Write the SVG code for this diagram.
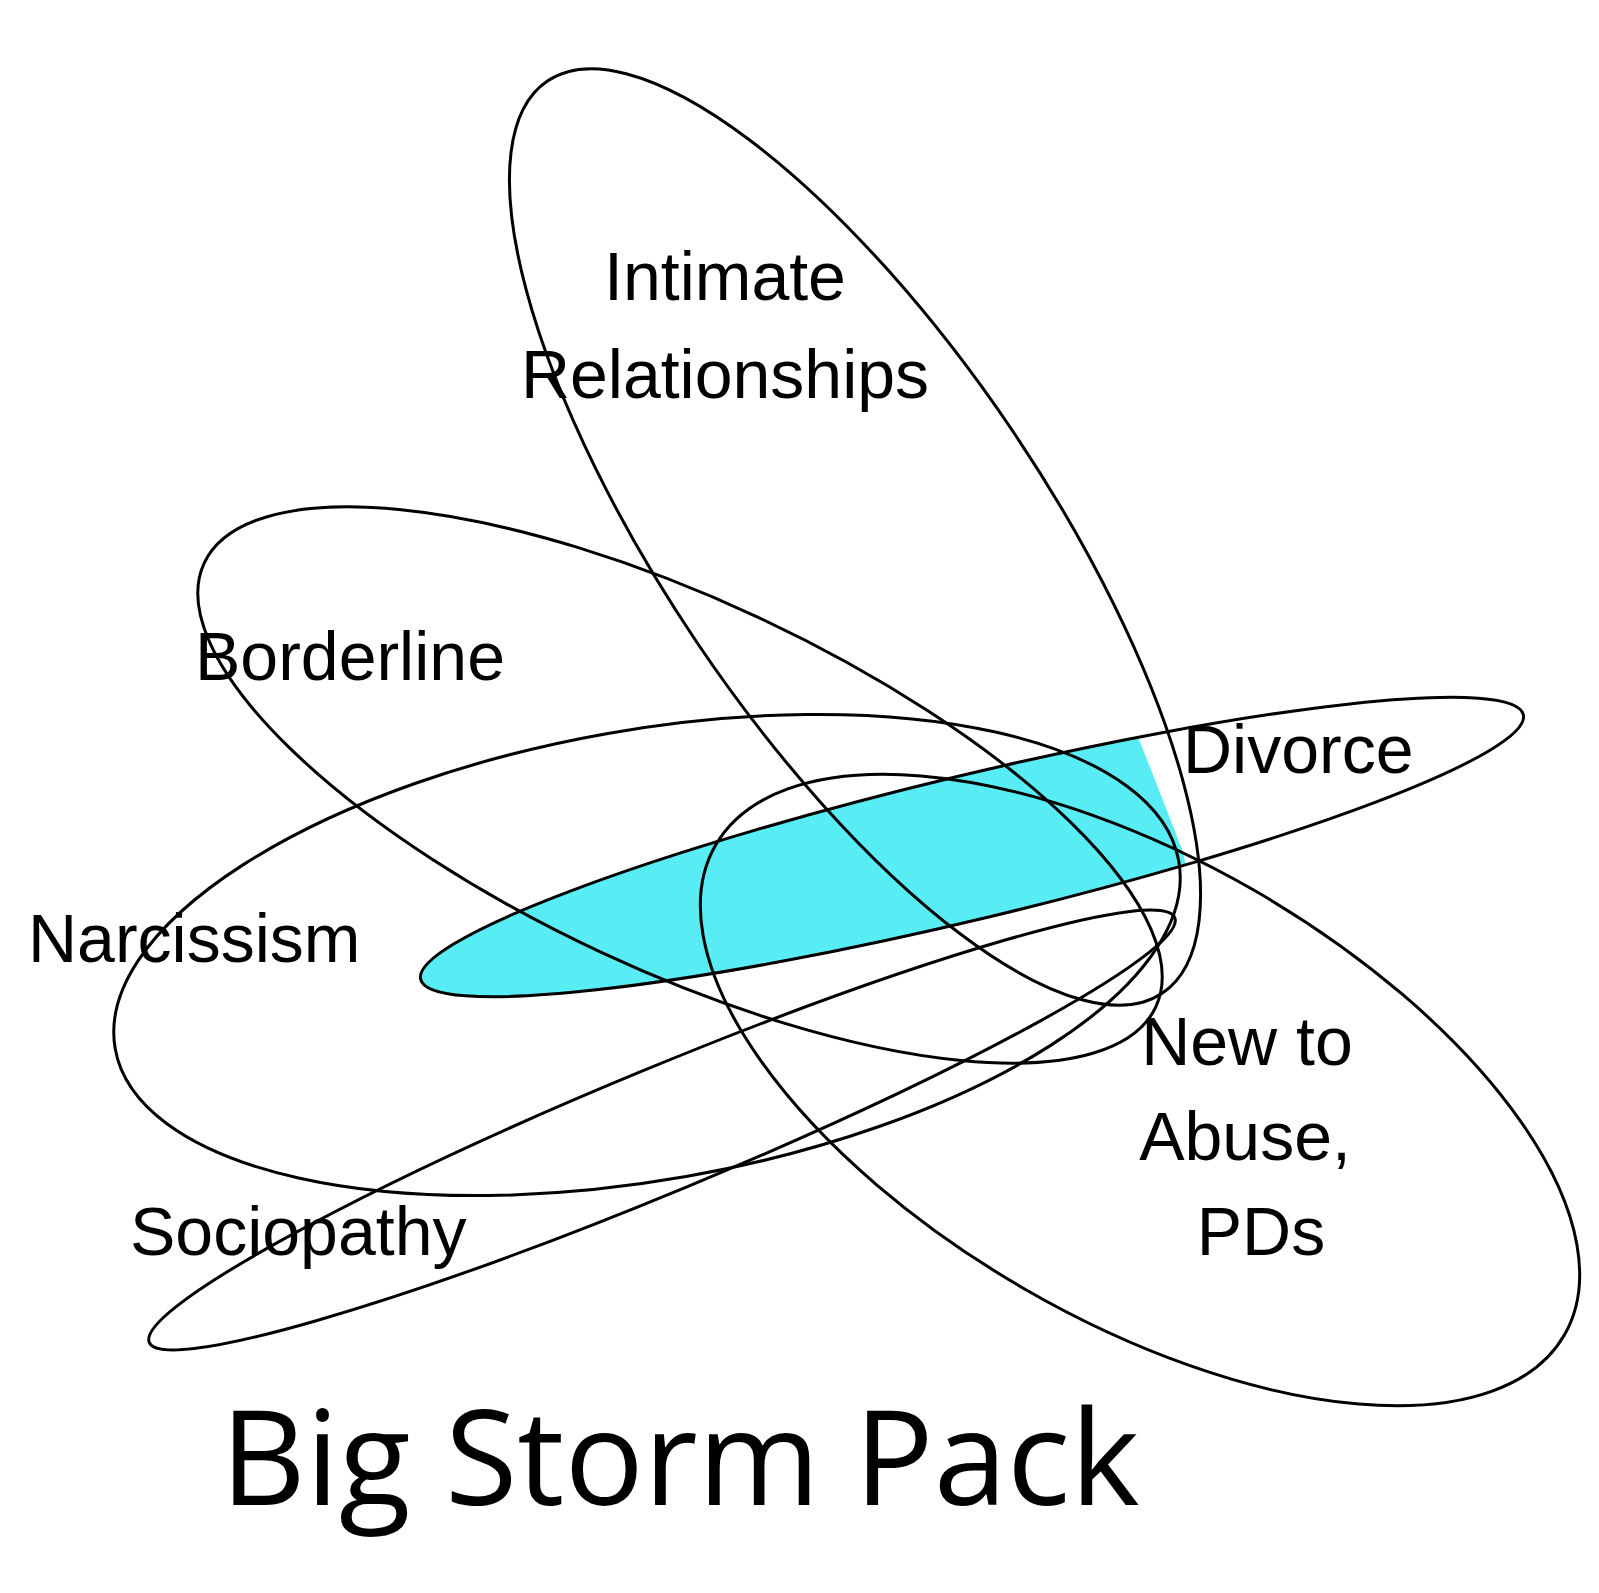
<svg xmlns="http://www.w3.org/2000/svg" width="1599" height="1593" viewBox="0 0 1599 1593">
<style>
.e{fill:none;stroke:#000;stroke-width:3}
.t{font-family:"Liberation Sans",Arial,sans-serif;font-size:68px;fill:#000}
</style>
<defs><clipPath id="c"><polygon points="0,0 1138,0 1150,712 1176,900 1176,1593 0,1593"/></clipPath></defs>
<rect width="1599" height="1593" fill="#fff"/>
<g id="divorce-fill"><ellipse cx="972" cy="847" rx="567" ry="72" transform="rotate(-13.5 972 847)" fill="#58ecf4" clip-path="url(#c)"/></g>
<g id="connectors">
<ellipse id="intimate" class="e" cx="855" cy="537" rx="550" ry="190" transform="rotate(56 855 537)"/>
<ellipse id="borderline" class="e" cx="680" cy="785" rx="525" ry="185" transform="rotate(25 680 785)"/>
<ellipse id="narcissism" class="e" cx="647" cy="955" rx="540" ry="225" transform="rotate(-10 647 955)"/>
<ellipse id="divorce" class="e" cx="972" cy="847" rx="567" ry="72" transform="rotate(-13.5 972 847)"/>
<ellipse id="newto" class="e" cx="1140" cy="1090" rx="490" ry="230" transform="rotate(30 1140 1090)"/>
<ellipse id="sociopathy" class="e" cx="662" cy="1130" rx="555" ry="62" transform="rotate(-22.5 662 1130)"/>
</g>
<g id="labels">
<text class="t" x="725" y="300" text-anchor="middle">Intimate</text>
<text class="t" x="725" y="398" text-anchor="middle">Relationships</text>
<text class="t" x="195" y="680">Borderline</text>
<text class="t" x="1183" y="773">Divorce</text>
<text class="t" x="28" y="962">Narcissism</text>
<text class="t" x="1247" y="1065" text-anchor="middle">New to</text>
<text class="t" x="1245" y="1160" text-anchor="middle">Abuse,</text>
<text class="t" x="1261" y="1255" text-anchor="middle">PDs</text>
<text class="t" x="130" y="1255">Sociopathy</text>
<text x="680" y="1505" text-anchor="middle" style="font-family:'Open Sans',sans-serif;font-size:132px">Big Storm Pack</text>
</g>
</svg>
